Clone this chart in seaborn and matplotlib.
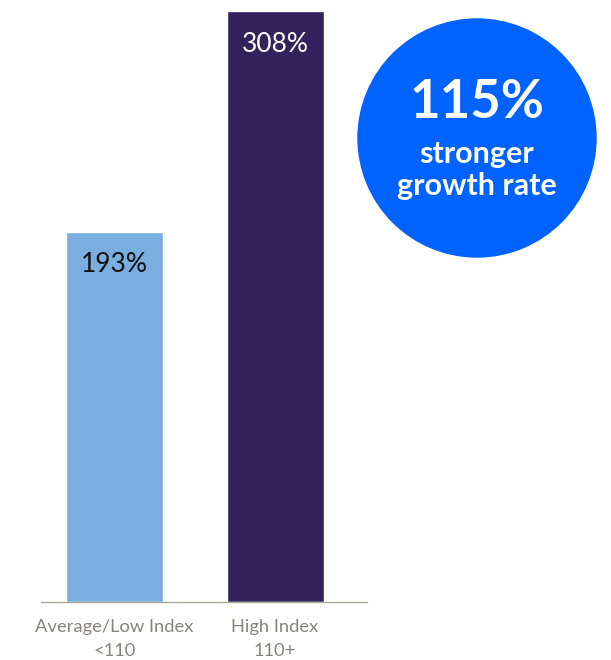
import matplotlib
matplotlib.use("Agg")
import matplotlib.pyplot as plt
import seaborn as sns
from matplotlib.patches import Circle

# Growth rate by index group
categories = ["Average/Low Index\n<110", "High Index\n110+"]
growth = [193, 308]
bar_colors = ["#7aaee0", "#33235c"]
label_colors = ["#111111", "#ffffff"]
headline = "115%"
headline_sub = "stronger\ngrowth rate"

sns.set_theme(style="white")
plt.rcParams["font.family"] = ["Lato", "DejaVu Sans"]

W, H = 611, 660
fig = plt.figure(figsize=(W / 100, H / 100), dpi=100)
fig.patch.set_facecolor("white")

ax = fig.add_axes([41 / W, 58 / H, 326 / W, 591 / H])
sns.barplot(x=categories, y=growth, hue=categories, palette=bar_colors,
            width=0.604, legend=False, saturation=1, ax=ax)
ax.set_xlim(-0.458, 1.573)
ax.set_ylim(0, max(growth))
ax.set_yticks([])
ax.set_xlabel("")
ax.set_ylabel("")
for side in ["top", "left", "right"]:
    ax.spines[side].set_visible(False)
ax.spines["bottom"].set_color("#a9a99b")
ax.spines["bottom"].set_linewidth(1.0)
ax.tick_params(axis="x", length=0, pad=12, labelsize=13.2, colors="#85857a")
for t in ax.get_xticklabels():
    t.set_linespacing(1.65)
ax.set_facecolor("none")

for i, (v, c) in enumerate(zip(growth, label_colors)):
    ax.annotate(f"{v}%", xy=(i, v), xytext=(0, -33), textcoords="offset pixels",
                ha="center", va="center", fontsize=19, color=c)

# Callout bubble
ov = fig.add_axes([0, 0, 1, 1])
ov.set_xlim(0, W)
ov.set_ylim(H, 0)
ov.axis("off")
ov.patch.set_alpha(0)
ov.add_patch(Circle((477, 138), 119, color="#0062ff", zorder=1))
ov.text(477, 102, headline, ha="center", va="center", fontsize=38,
        fontweight="bold", color="white", zorder=2)
ov.text(477, 170, headline_sub, ha="center", va="center", fontsize=22,
        fontweight="bold", color="white", linespacing=1.15, zorder=2)

fig.savefig("out.png", dpi=100, facecolor="white")
